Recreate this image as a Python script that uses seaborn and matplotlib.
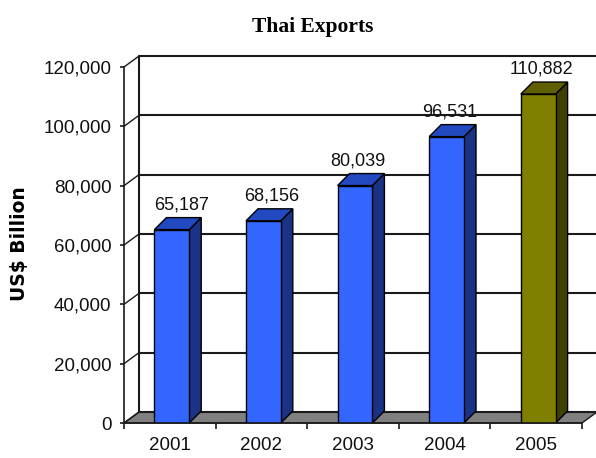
import matplotlib
matplotlib.use("Agg")
import matplotlib.pyplot as plt
from matplotlib.patches import Polygon
import pandas as pd
import seaborn as sns

years = ["2001", "2002", "2003", "2004", "2005"]
exports = [65187, 68156, 80039, 96531, 110882]
bar_colors = ["#3366FF", "#3366FF", "#3366FF", "#3366FF", "#808000"]
side_colors = ["#1A3385", "#1A3385", "#1A3385", "#1A3385", "#404000"]
top_colors = ["#2249C0", "#2249C0", "#2249C0", "#2249C0", "#606000"]
y_ticks = [0, 20000, 40000, 60000, 80000, 100000, 120000]

W, H = 596, 458
LINE = "#1a1a1a"
LABEL_NUDGE = [10, 8, 3, 3, 3]  # data labels sit off-centre, in pixels

sns.set_theme(style="white")
plt.rcParams["font.family"] = ["Liberation Sans", "DejaVu Sans"]

fig = plt.figure(figsize=(W / 100, H / 100), dpi=100)
ax = fig.add_axes([124 / W, 1 - 423 / H, 458 / W, 356 / H])

df = pd.DataFrame({"year": years, "exports": exports})
sns.barplot(
    data=df, x="year", y="exports", hue="year", palette=bar_colors, legend=False,
    width=0.38, edgecolor="black", linewidth=1.0, saturation=1, ax=ax, zorder=5,
)
ax.set_xlim(-0.5, 4.5)
ax.set_ylim(0, 120000)

# depth of the fake 3d box, pixels converted to data units
px_x = 5 / 458
px_y = 120000 / 356
wall_dx, wall_dy = 15 * px_x, 11 * px_y
bar_dx, bar_dy = 12 * px_x, 12 * px_y
x0, x1 = ax.get_xlim()

# floor
ax.add_patch(Polygon(
    [(x0, 0), (x1, 0), (x1 + wall_dx, wall_dy), (x0 + wall_dx, wall_dy)],
    facecolor="#808080", edgecolor=LINE, linewidth=1.0, clip_on=False, zorder=1,
))

# back wall grid, left edge and connectors to the front axis
for tick in y_ticks:
    ax.plot([x0 + wall_dx, x1 + wall_dx], [tick + wall_dy, tick + wall_dy],
            color=LINE, lw=1.5, clip_on=False, zorder=2, solid_capstyle="butt")
    ax.plot([x0, x0 + wall_dx], [tick, tick + wall_dy], color=LINE, lw=1.0, clip_on=False, zorder=2)
ax.plot([x0 + wall_dx, x0 + wall_dx], [wall_dy, 120000 + wall_dy], color=LINE, lw=1.5, clip_on=False, zorder=2)

# side and top faces of each bar
bars = list(ax.patches)[:len(exports)]
for bar, side, top, value, nudge in zip(bars, side_colors, top_colors, exports, LABEL_NUDGE):
    bar.set_x(bar.get_x() + 2 * px_x)
    left, right = bar.get_x(), bar.get_x() + bar.get_width()
    ax.add_patch(Polygon(
        [(right, 0), (right + bar_dx, bar_dy), (right + bar_dx, value + bar_dy), (right, value)],
        facecolor=side, edgecolor="black", linewidth=1.0, clip_on=False, zorder=4,
    ))
    ax.add_patch(Polygon(
        [(left, value), (right, value), (right + bar_dx, value + bar_dy), (left + bar_dx, value + bar_dy)],
        facecolor=top, edgecolor="black", linewidth=1.0, clip_on=False, zorder=4,
    ))
    ax.annotate(f"{value:,}", (left + bar.get_width() / 2 + nudge * px_x, value + bar_dy),
                xytext=(0, 3), textcoords="offset points", ha="center", va="bottom",
                fontsize=13, color="#111111", zorder=6)

for name in ["top", "right"]:
    ax.spines[name].set_visible(False)
for name in ["left", "bottom"]:
    ax.spines[name].set_color(LINE)
    ax.spines[name].set_linewidth(1.2)
    ax.spines[name].set_zorder(7)

ax.set_yticks(y_ticks)
ax.set_yticklabels([f"{t:,}" for t in y_ticks])
ax.set_xticks([x0 + i for i in range(6)], minor=True)
ax.tick_params(axis="x", which="major", length=0, labelsize=13.5, pad=10, colors="#111111")
ax.tick_params(axis="x", which="minor", length=4, width=1.2, color=LINE, bottom=True)
ax.tick_params(axis="y", length=3, width=1.2, color=LINE, left=True, labelsize=13.5, pad=6, labelcolor="#111111")
ax.set_xlabel("")
ax.set_ylabel("")

fig.text(20 / W, 1 - 244 / H, "US$ Billion", rotation=90, ha="center", va="center",
         fontsize=13.5, fontweight="bold", color="black", family=["DejaVu Sans"])
fig.text(313 / W, 1 - 27 / H, "Thai Exports", ha="center", va="center",
         fontsize=15.5, fontweight="bold", color="black", family=["Liberation Serif", "DejaVu Serif"])

fig.savefig("out.png", dpi=100)
plt.close(fig)
